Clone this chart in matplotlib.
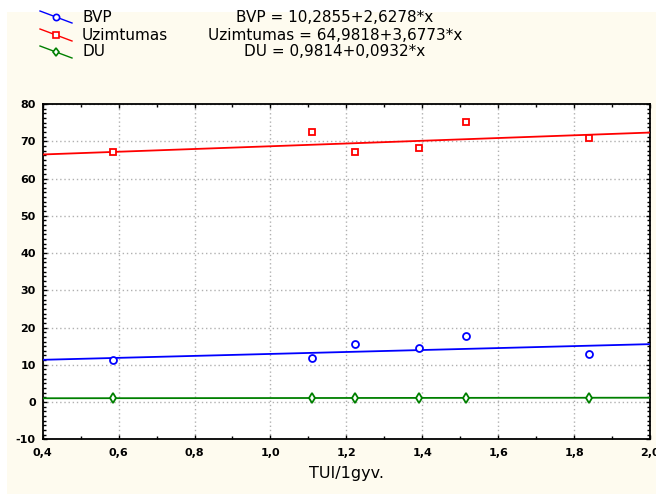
import matplotlib
matplotlib.use("Agg")
import matplotlib.pyplot as plt
from matplotlib.ticker import MultipleLocator, FuncFormatter
from matplotlib.patches import Rectangle
from matplotlib.lines import Line2D
import numpy as np

# Data
x_vals = [0.584, 1.110, 1.222, 1.391, 1.514, 1.840]
bvp = [11.2, 11.8, 15.6, 14.4, 17.8, 12.9]
uzim = [67.0, 72.4, 67.0, 68.1, 75.1, 70.8]
du = [1.0, 1.1, 1.1, 1.1, 1.1, 1.2]
series_names = ["BVP", "Uzimtumas", "DU"]
intercepts = [10.2855, 64.9818, 0.9814]
slopes = [2.6278, 3.6773, 0.0932]
equations = ["BVP = 10,2855+2,6278*x",
             "Uzimtumas = 64,9818+3,6773*x",
             "DU = 0,9814+0,0932*x"]
colors = ["#0000FF", "#FF0000", "#008000"]
markers = ["o", "s", "d"]
x_label = "TUI/1gyv."

W, H = 656, 494
fig = plt.figure(figsize=(W / 100, H / 100), dpi=100, facecolor="white")
fig.patches.append(Rectangle((7 / W, 0), 1, 1 - 12 / H, transform=fig.transFigure,
                             facecolor="#FEFBEF", edgecolor="none", zorder=-10))

ax = fig.add_axes([42.7 / W, 1 - 439.3 / H, (650 - 42.7) / W, (439.3 - 104) / H])
ax.set_facecolor("white")
ax.set_xlim(0.4, 2.0)
ax.set_ylim(-10, 80)

ys = [bvp, uzim, du]
xl = np.array(ax.get_xlim())
for y, c, m, a, b in zip(ys, colors, markers, intercepts, slopes):
    ax.plot(xl, a + b * xl, color=c, lw=1.3, zorder=3)
    ax.plot(x_vals, y, linestyle="none", marker=m, markersize=5,
            markerfacecolor="white", markeredgecolor=c, markeredgewidth=1.3, zorder=4,
            clip_on=False)

ax.xaxis.set_major_locator(MultipleLocator(0.2))
ax.xaxis.set_minor_locator(MultipleLocator(0.1))
ax.yaxis.set_major_locator(MultipleLocator(10))
ax.yaxis.set_minor_locator(MultipleLocator(1.25))
ax.xaxis.set_major_formatter(FuncFormatter(lambda v, p: f"{v:.1f}".replace(".", ",")))
ax.yaxis.set_major_formatter(FuncFormatter(lambda v, p: f"{v:.0f}"))
ax.tick_params(axis="both", which="both", direction="in", top=True, right=True,
               labelsize=8, colors="black")
ax.tick_params(axis="x", pad=6)
ax.tick_params(axis="y", pad=5)
ax.tick_params(which="major", length=3, width=1)
ax.tick_params(which="minor", length=2.5, width=1)
for lab in ax.get_xticklabels() + ax.get_yticklabels():
    lab.set_fontweight("bold")
ax.grid(True, which="major", color="#B0B0B0", linestyle=(0, (1, 2)), lw=1)
for s in ax.spines.values():
    s.set_linewidth(1.3)
    s.set_color("black")
ax.set_xlabel(x_label, fontsize=11.5, labelpad=6)

# Legend (drawn in figure pixel coords)
def fx(px):
    return px / W

def fy(py):
    return 1 - py / H

row_y = [17, 35, 52]
for name, c, m, ry in zip(series_names, colors, markers, row_y):
    fig.add_artist(Line2D([fx(40), fx(72)], [fy(ry - 6), fy(ry + 6)], color=c, lw=1,
                          transform=fig.transFigure))
    fig.add_artist(Line2D([fx(56)], [fy(ry)], marker=m, markersize=4.5,
                          markerfacecolor="white", markeredgecolor=c, markeredgewidth=1.2,
                          linestyle="none", transform=fig.transFigure))
    fig.text(fx(82), fy(ry), name, fontsize=11, va="center", ha="left")

for eq, ry in zip(equations, row_y):
    fig.text(fx(335), fy(ry), eq, fontsize=11, va="center", ha="center")

fig.savefig("out.png", dpi=100, facecolor=fig.get_facecolor())
